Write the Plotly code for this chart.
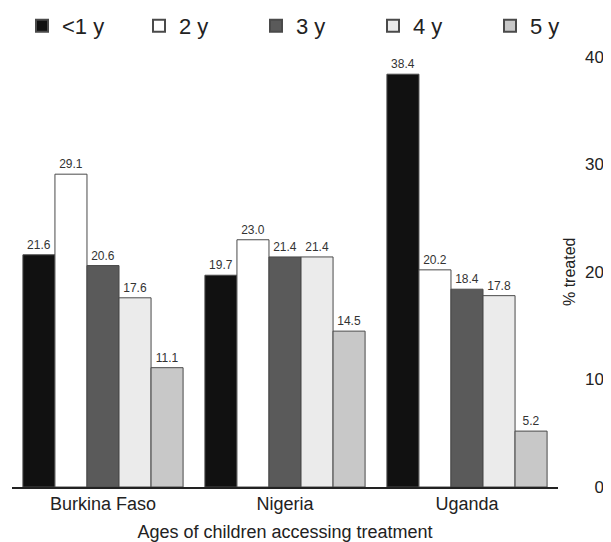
import plotly.graph_objects as go

countries = ["Burkina Faso", "Nigeria", "Uganda"]
series_names = ["<1 y", "2 y", "3 y", "4 y", "5 y"]
v_lt1 = [21.6, 19.7, 38.4]
v_2 = [29.1, 23.0, 20.2]
v_3 = [20.6, 21.4, 18.4]
v_4 = [17.6, 21.4, 17.8]
v_5 = [11.1, 14.5, 5.2]
y_ticks = [0, 10, 20, 30, 40]

values = [v_lt1, v_2, v_3, v_4, v_5]
colors = ["#111111", "#ffffff", "#5a5a5a", "#ebebeb", "#c8c8c8"]
font = "Liberation Sans, Arial, sans-serif"
edge = "#4a4a4a"

# the page body adds an 8px offset, so the figure is 8px smaller
W, H = 603, 534

fig = go.Figure()
for name, vals, col in zip(series_names, values, colors):
    fig.add_trace(go.Bar(
        x=countries, y=vals, name=name, showlegend=True,
        marker=dict(color=col, line=dict(color=edge, width=1)),
        texttemplate="%{y:.1f}", textposition="outside",
        textfont=dict(size=12, color="#333333", family=font),
        cliponaxis=False,
    ))

fig.update_layout(
    width=W, height=H,
    margin=dict(l=4, r=4, t=49, b=55),
    paper_bgcolor="white", plot_bgcolor="white",
    barmode="group", bargap=0.12, bargroupgap=0,
    font=dict(family=font, color="#222222"),
    legend=dict(orientation="h", x=14 / W, y=1 - 18 / H, xref="container", yref="container",
                xanchor="left", yanchor="middle",
                font=dict(size=22, color="#222222"),
                entrywidth=72, entrywidthmode="pixels",
                itemsizing="constant"),
    showlegend=True,
    xaxis=dict(domain=[0, 546 / 595], showline=True, linecolor="#222222", linewidth=1.5,
               ticks="", tickfont=dict(size=18, color="#222222"),
               title=dict(text="Ages of children accessing treatment",
                          font=dict(size=18, color="#222222"), standoff=12)),
    yaxis=dict(anchor="free", position=1.0, side="right", ticklabelposition="inside",
               ticklabeloverflow="allow",
               range=[0, 40], tickvals=y_ticks,
               showgrid=False, showline=False, zeroline=False, automargin=False,
               ticks="", tickfont=dict(size=17, color="#222222")),
    annotations=[dict(text="% treated", x=557 / 595, y=0.5, xref="paper", yref="paper",
                      xanchor="center", yanchor="middle",
                      showarrow=False, textangle=-90,
                      font=dict(size=16, color="#222222"))],
)
fig.write_html("out.html")
